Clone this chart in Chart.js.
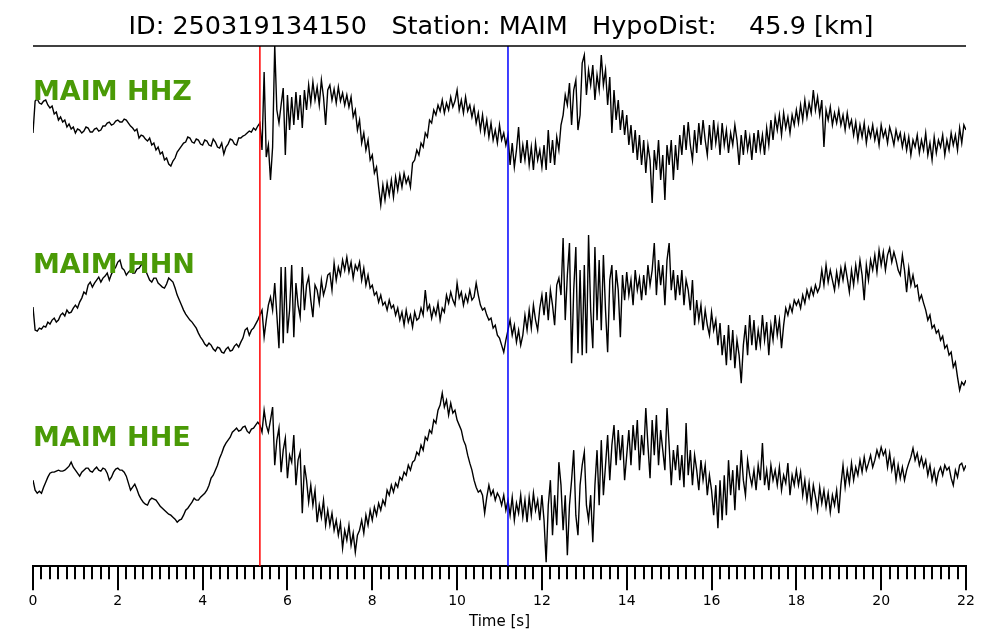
<!DOCTYPE html>
<html>
<head>
<meta charset="utf-8">
<script src="https://cdn.jsdelivr.net/npm/chart.js@4.4.1/dist/chart.umd.min.js"></script>
<style>
  html, body { margin: 0; padding: 0; background: #fff; }
  #wrap { width: 1000px; height: 640px; }
</style>
</head>
<body>
<div id="wrap"><canvas id="seis" width="1000" height="640"></canvas></div>
<script>
// sample step of the traces [s]
const DT = 0.05;

// picks [s]
const P_PICK = 5.35;
const S_PICK = 11.2;

const channels = ["MAIM HHZ", "MAIM HHN", "MAIM HHE"];
const offsets = [350, 175, 0];

// amplitudes (counts), 20 values per second, 0..22 s
const hhz = [
  -8, 24, 26, 22, 21, 24, 25, 20, 17, 19, 11, 13, 5, 8, 3, 5, -2, 1, -4, -2,
  -8, -4, -5, -8, -6, -2, -3, -7, -7, -4, -3, -6, -5, -1, -1, 2, 3, 0, 1, 4,
  5, 3, 3, 6, 5, 2, -1, -3, -6, -4, -13, -10, -11, -14, -16, -13, -20, -18, -25, -22,
  -29, -27, -35, -33, -39, -41, -36, -33, -27, -24, -21, -18, -17, -12, -13, -17, -18, -14, -15, -19,
  -20, -15, -16, -20, -21, -14, -17, -22, -23, -18, -29, -22, -19, -14, -15, -19, -20, -13, -13, -11,
  -10, -8, -6, -7, -3, -5, -1, 2, -25, 53, -32, -20, -55, -22, 80, 15, 2, 20, 37, -30,
  30, -5, 28, 0, 33, 5, 30, -3, 35, 15, 40, 22, 43, 25, 38, 20, 45, 28, 0, 35,
  40, 25, 36, 22, 38, 24, 32, 20, 30, 18, 28, 8, 15, -5, 5, -18, -8, -25, -15, -35,
  -30, -48, -42, -62, -80, -60, -75, -58, -70, -55, -72, -52, -65, -50, -62, -48, -58, -52, -62, -38,
  -35, -25, -30, -18, -22, -8, -12, 5, 2, 15, 10, 20, 14, 25, 12, 22, 15, 28, 18, 24,
  35, 15, 25, 12, 28, 14, 20, 8, 18, 2, 12, -5, 10, -8, 5, -12, 2, -15, -5, -18,
  0, -15, -8, -20, -10, -40, -18, -42, -25, -2, -38, -20, -35, -15, -40, -22, -45, -18, -35, -25,
  -42, -20, -45, -5, -38, -15, -40, -12, -25, 0, 10, 30, 20, 42, 0, 35, 45, -5, 10, 62,
  70, 30, 55, 40, 60, 25, 50, 35, 70, 40, 55, 20, 48, -8, 35, 5, 25, -5, 15, -10,
  10, -20, 0, -28, -5, -35, -10, -40, -15, -48, -20, -35, -78, -25, -45, -15, -55, -30, -75, -20,
  -40, -15, -55, -20, -45, -10, -30, 0, -25, 3, -20, -35, -5, -28, 2, -20, 5, -15, -30, 0,
  -25, 5, -18, -2, -30, 2, -20, -5, -28, -8, -20, 0, -15, -40, -10, -30, -5, -25, -12, -35,
  -8, -28, -5, -25, -10, -30, -3, -20, 5, -15, 8, -5, 10, -10, 12, -3, 8, -8, 10, 0,
  15, 2, 20, 5, 25, 8, 22, 12, 35, 15, 28, 10, 25, -22, 15, 5, 18, 0, 12, 2,
  15, 0, 10, -5, 12, -2, 5, -10, 3, -15, 0, -12, 2, -18, -3, -12, 0, -15, -5, -20,
  0, -12, -5, -18, -2, -10, -20, -5, -15, -8, -22, -10, -25, -12, -30, -15, -22, -10, -28, -15,
  -25, -8, -30, -18, -35, -12, -28, -15, -22, -10, -30, -15, -25, -8, -20, -10, -25, -3, -18, 0,
  -5
];

const hhn = [
  -7, -30, -31, -28, -29, -26, -27, -22, -24, -20, -18, -22, -20, -15, -13, -16, -10, -13, -12, -8,
  -5, -8, -2, 2, 8, 6, 15, 18, 13, 17, 20, 23, 18, 22, 24, 27, 20, 26, 30, 33,
  38, 40, 32, 30, 25, 28, 30, 27, 27, 31, 32, 35, 37, 30, 25, 20, 18, 22, 22, 17,
  15, 13, 12, 16, 22, 20, 18, 12, 5, 0, -5, -10, -14, -17, -20, -22, -25, -28, -33, -37,
  -40, -44, -46, -43, -45, -49, -51, -47, -48, -52, -53, -49, -47, -51, -50, -46, -44, -47, -42, -38,
  -30, -28, -35, -30, -28, -24, -20, -15, -10, -37, -20, -5, 3, -10, 17, -15, -48, 33, -43, 33,
  -33, -10, 35, -37, 17, -5, -17, 33, -10, 15, 23, 0, -17, 15, 10, -3, 20, 5, 13, 25,
  27, 10, 37, 20, 33, 25, 40, 30, 43, 28, 38, 22, 35, 30, 38, 20, 32, 15, 25, 12,
  15, 5, 8, -2, 5, -5, -2, -10, 0, -8, -5, -15, -8, -20, -12, -25, -10, -22, -15, -27,
  -12, -20, -18, -8, -15, 10, -10, -5, -18, -8, -15, -3, -20, -8, -12, 5, -3, 8, 0, -5,
  17, 2, 8, -5, 5, -2, 10, 0, 3, 17, 5, -5, -10, -8, -15, -20, -18, -28, -25, -35,
  -38, -45, -52, -40, -30, -20, -35, -25, -42, -30, -45, -35, -15, -30, -10, -28, -5, -20, -30, -8,
  5, -15, 8, -20, 10, -5, -25, 15, 22, 5, 62, -20, 25, 57, -63, 10, 53, -53, 30, -55,
  35, -53, 65, -10, -48, 53, -20, 40, -30, 45, -10, -52, 20, 35, -20, 30, 10, -37, 25, 0,
  28, 5, 20, -5, 30, 10, 22, 0, 25, 5, 35, 15, 30, 57, 5, 40, 15, 35, -5, 40,
  57, 10, 30, 0, 25, 5, 30, -5, 20, 10, -10, 20, -25, 0, -20, -5, -30, -10, -25, -35,
  -12, -30, -20, -45, -23, -55, -35, -65, -25, -60, -30, -68, -40, -55, -83, -45, -25, -55, -15, -45,
  -20, -50, -30, -45, -15, -40, -22, -55, -25, -40, -15, -35, -20, -48, -25, -8, -15, -5, -12, 0,
  -5, 0, -8, 5, -3, 10, 2, 12, 5, 15, 8, 13, 30, 15, 35, 18, 30, 20, 10, 28,
  15, 32, 20, 35, 22, 8, 30, 15, 35, 20, 40, 25, 0, 35, 20, 40, 30, 45, 28, 50,
  35, 48, 30, 45, 52, 38, 48, 40, 30, 25, 45, 30, 8, 32, 15, 25, 13, 15, 0, 5,
  -3, -10, -20, -15, -28, -25, -33, -30, -40, -36, -48, -45, -55, -52, -67, -62, -77, -90, -82, -85,
  -80
];

const hhe = [
  -5, -15, -18, -16, -18, -12, -7, -2, 2, 3, 3, 4, 5, 4, 4, 5, 7, 9, 13, 8,
  5, 2, -1, 3, 5, 7, 7, 4, 3, 6, 8, 5, 4, 7, 6, 2, -5, -2, 3, 6,
  7, 5, 5, 3, -1, -8, -15, -12, -9, -14, -20, -24, -27, -29, -30, -25, -23, -24, -25, -28,
  -31, -33, -35, -37, -39, -40, -42, -44, -47, -45, -44, -40, -35, -33, -30, -27, -23, -25, -25, -22,
  -20, -18, -15, -10, -3, 0, 5, 10, 17, 22, 28, 32, 35, 38, 43, 45, 47, 44, 45, 48,
  49, 44, 42, 46, 47, 50, 53, 50, 43, 65, 50, 43, 55, 68, 10, 35, 47, 3, 25, 37,
  -3, 20, 13, 40, -10, 15, 23, -38, 10, -5, -27, -10, -30, -15, -47, -30, -42, -25, -50, -35,
  -50, -38, -55, -45, -60, -48, -73, -55, -65, -50, -70, -58, -77, -60, -55, -45, -58, -40, -50, -35,
  -45, -32, -40, -28, -35, -25, -30, -15, -20, -10, -17, -8, -12, -2, -5, 3, 0, 10, 5, 13,
  15, 23, 20, 30, 25, 38, 35, 45, 42, 55, 52, 65, 70, 82, 68, 75, 60, 72, 62, 65,
  55, 50, 45, 35, 30, 20, 12, 5, -5, -12, -17, -15, -20, -38, -22, -10, -20, -15, -25, -18,
  -22, -30, -20, -35, -25, -40, -22, -45, -28, -38, -20, -42, -25, -47, -22, -40, -18, -35, -25, -45,
  -20, -45, -87, -30, -5, -60, -20, -50, 13, -10, -55, -20, -80, -30, -5, 25, -40, -60, -10, 10,
  23, -30, -45, -20, -67, -10, 25, -30, 35, -20, 10, 40, -5, 30, 50, 10, 45, 15, 40, -5,
  20, 45, 10, 50, 25, 55, 5, 40, 20, 67, 30, -3, 55, 20, 60, 10, 45, 25, 5, 67,
  30, -10, 25, 5, 30, -5, 20, -12, 52, 0, 25, -10, 20, 5, -15, 15, -5, 10, -20, 0,
  -15, -40, -10, -53, -5, -45, 0, -40, 15, -20, 5, -35, 10, -15, 25, -5, -20, 15, 0, -10,
  5, -15, 10, -5, 32, -10, 5, -15, 10, -5, 5, -10, 8, -15, 0, -8, 12, -20, 0, -10,
  5, -10, 3, -20, -5, -25, -8, -30, -10, -22, -35, -12, -28, -15, -32, -18, -37, -20, -30, -15,
  -38, -10, 10, -12, 5, -8, 12, -5, 8, 0, 15, 3, 18, 5, 12, 20, 8, 15, 25, 18,
  28, 20, 25, 8, 22, 5, 15, -5, 10, -3, 8, -5, 5, 12, 18, 27, 15, 22, 10, 18,
  8, 15, 0, 10, -5, 5, -8, 3, 8, 0, 10, 5, 8, -3, -10, 5, -2, 10, 12, 5,
  10
];

const majorTicks = [0, 2, 4, 6, 8, 10, 12, 14, 16, 18, 20, 22];
const minorStep = 0.2;

const Y_MIN = -91;
const Y_MAX = 429;
const X_MAX = 22;

const titleText = "ID: 250319134150   Station: MAIM   HypoDist:    45.9 [km]";

// label height above each trace centre (counts)
const labelLift = [32, 34, 36];

const traces = [hhz, hhn, hhe];

const traceSets = traces.map((vals, k) => ({
  label: channels[k],
  data: vals.map((v, i) => ({ x: i * DT, y: v + offsets[k] })),
  borderColor: "#000",
  borderWidth: 1.4,
  pointRadius: 0,
  tension: 0,
  order: 2
}));

function pickLine(t, color) {
  return {
    label: "pick",
    data: [{ x: t, y: Y_MIN }, { x: t, y: Y_MAX }],
    borderColor: color,
    borderWidth: 1.5,
    pointRadius: 0,
    order: 1
  };
}

const decor = {
  id: "decor",
  afterDraw(chart) {
    const { ctx, chartArea: a, scales: { x, y } } = chart;
    ctx.save();
    ctx.strokeStyle = "#000";

    // top spine
    ctx.lineWidth = 1.5;
    ctx.beginPath();
    ctx.moveTo(a.left, a.top);
    ctx.lineTo(a.right, a.top);
    ctx.stroke();

    // minor ticks
    ctx.lineWidth = 2;
    ctx.beginPath();
    for (let i = 0; i * minorStep <= X_MAX + 1e-9; i++) {
      const v = i * minorStep;
      if (majorTicks.some(m => Math.abs(m - v) < 1e-6)) continue;
      const px = Math.round(x.getPixelForValue(v));
      ctx.moveTo(px, a.bottom);
      ctx.lineTo(px, a.bottom + 13);
    }
    ctx.stroke();

    // title
    ctx.fillStyle = "#000";
    ctx.font = '25.5px "DejaVu Sans"';
    ctx.textAlign = "center";
    ctx.textBaseline = "middle";
    ctx.fillText(titleText, 501, 27);

    // channel names
    ctx.fillStyle = "#4a9a06";
    ctx.font = 'bold 27px "DejaVu Sans"';
    ctx.textAlign = "left";
    channels.forEach((c, k) => {
      ctx.fillText(c, a.left, y.getPixelForValue(offsets[k] + labelLift[k]));
    });
    ctx.restore();
  }
};

new Chart(document.getElementById("seis"), {
  type: "line",
  data: {
    datasets: [...traceSets, pickLine(P_PICK, "#ff0000"), pickLine(S_PICK, "#0000ff")]
  },
  options: {
    responsive: false,
    animation: false,
    devicePixelRatio: 1,
    layout: {
      padding: { left: 33, right: 34, top: 46, bottom: 9 }
    },
    plugins: {
      legend: { display: false },
      tooltip: { enabled: false }
    },
    scales: {
      x: {
        type: "linear",
        min: 0,
        max: X_MAX,
        afterBuildTicks: (scale) => {
          scale.ticks = majorTicks.map(v => ({ value: v }));
        },
        ticks: {
          color: "#000",
          font: { family: "DejaVu Sans", size: 14 },
          padding: 3,
          maxRotation: 0,
          autoSkip: false
        },
        grid: {
          drawOnChartArea: false,
          drawTicks: true,
          tickLength: 24,
          lineWidth: 2,
          color: "#000"
        },
        border: { display: true, color: "#000", width: 2 },
        title: {
          display: true,
          text: "Time [s]",
          color: "#000",
          font: { family: "DejaVu Sans", size: 15 },
          padding: { top: 0, bottom: 0 }
        }
      },
      y: {
        display: false,
        min: Y_MIN,
        max: Y_MAX
      }
    }
  },
  plugins: [decor]
});
</script>
</body>
</html>
